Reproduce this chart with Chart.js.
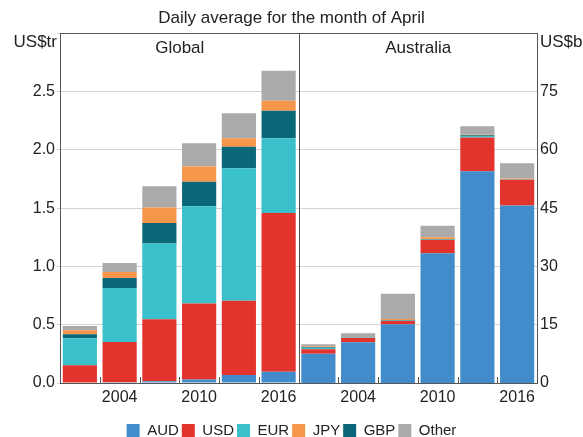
<!DOCTYPE html>
<html>
<head>
    <meta charset="utf-8">
    <title>Turnover by currency</title>
    <script src="https://cdn.jsdelivr.net/npm/chart.js"></script>
    <style>
        html, body { margin: 0; padding: 0; background: #fff; }
    </style>
</head>
<body>
    <canvas id="turnover-chart" width="583" height="437"></canvas>

    <script>
        const years = ['2001', '2004', '2007', '2010', '2013', '2016'];
        const shownYears = ['2004', '2010', '2016'];

        // Global, US$ trillion
        const globalAUD = [0.004, 0.006, 0.015, 0.030, 0.069, 0.097];
        const globalUSD = [0.148, 0.346, 0.531, 0.653, 0.637, 1.362];
        const globalEUR = [0.231, 0.463, 0.652, 0.833, 1.136, 0.641];
        const globalGBP = [0.035, 0.085, 0.175, 0.212, 0.186, 0.237];
        const globalJPY = [0.034, 0.052, 0.134, 0.129, 0.072, 0.086];
        const globalOther = [0.037, 0.077, 0.181, 0.200, 0.214, 0.257];

        // Australia, US$ billion
        const ausAUD = [7.5, 10.5, 15.1, 33.4, 54.5, 45.7];
        const ausUSD = [1.2, 1.1, 0.85, 3.4, 8.7, 6.6];
        const ausEUR = [0.35, 0.05, 0.1, 0.1, 0.4, 0.1];
        const ausGBP = [0.2, 0.05, 0.1, 0.1, 0.2, 0.05];
        const ausJPY = [0.2, 0.1, 0.3, 0.5, 0.1, 0.2];
        const ausOther = [0.5, 1.0, 6.5, 3.0, 2.2, 3.9];

        const currencies = ['AUD', 'USD', 'EUR', 'GBP', 'JPY', 'Other'];
        const colours = ['#438ccb', '#e3332d', '#39c0cb', '#0b6879', '#f6964b', '#a9aaa9'];
        const legendOrder = ['AUD', 'USD', 'EUR', 'JPY', 'GBP', 'Other'];

        const globalSeries = [globalAUD, globalUSD, globalEUR, globalGBP, globalJPY, globalOther];
        const ausSeries = [ausAUD, ausUSD, ausEUR, ausGBP, ausJPY, ausOther];
        const empty = years.map(() => null);

        const FONT = '"Liberation Sans", Arial, sans-serif';
        const TEXT = '#222';
        const FRAME = '#555';

        const datasets = currencies.map((c, i) => ({
            label: c,
            data: globalSeries[i].concat(empty),
            yAxisID: 'y',
            backgroundColor: colours[i],
            borderWidth: 0,
            barPercentage: 0.86,
            categoryPercentage: 1
        })).concat(currencies.map((c, i) => ({
            label: c,
            data: empty.concat(ausSeries[i]),
            yAxisID: 'y2',
            backgroundColor: colours[i],
            borderWidth: 0,
            barPercentage: 0.86,
            categoryPercentage: 1
        })));

        // frame top, divider, small ticks between bars, unit + panel labels
        const panelFrame = {
            id: 'panelFrame',
            afterDatasetsDraw(chart) {
                const { ctx, chartArea: a, scales: { x } } = chart;
                ctx.save();
                ctx.strokeStyle = FRAME;
                ctx.lineWidth = 1;
                ctx.beginPath();
                ctx.moveTo(a.left, Math.round(a.top) + 0.5);
                ctx.lineTo(a.right, Math.round(a.top) + 0.5);
                ctx.stroke();

                let mid = 0;
                for (let i = 1; i < years.length * 2; i++) {
                    const px = Math.round((x.getPixelForValue(i - 1) + x.getPixelForValue(i)) / 2) + 0.5;
                    if (i === years.length) mid = px;
                    ctx.beginPath();
                    ctx.moveTo(px, i === years.length ? a.top : a.bottom - 6);
                    ctx.lineTo(px, a.bottom);
                    ctx.stroke();
                }

                ctx.fillStyle = TEXT;
                ctx.font = '17px ' + FONT;
                ctx.textBaseline = 'middle';
                ctx.textAlign = 'right';
                ctx.fillText('US$tr', a.left - 3, a.top + 9);
                ctx.textAlign = 'left';
                ctx.fillText('US$b', a.right + 3, a.top + 9);
                ctx.textAlign = 'center';
                ctx.fillText('Global', (a.left + mid) / 2, a.top + 15);
                ctx.fillText('Australia', (mid + a.right) / 2, a.top + 15);
                ctx.restore();
            }
        };

        const ctx = document.getElementById('turnover-chart').getContext('2d');
        new Chart(ctx, {
            type: 'bar',
            data: {
                labels: years.concat(years),
                datasets: datasets
            },
            plugins: [panelFrame],
            options: {
                responsive: false,
                animation: false,
                layout: {
                    autoPadding: false,
                    padding: { left: 0, right: 0, top: 0, bottom: -11 }
                },
                plugins: {
                    title: {
                        display: true,
                        text: 'Daily average for the month of April',
                        color: TEXT,
                        font: { family: FONT, size: 17, weight: 'normal' },
                        padding: { top: 8, bottom: 5 }
                    },
                    legend: {
                        display: true,
                        position: 'bottom',
                        labels: {
                            boxWidth: 13,
                            boxHeight: 13,
                            padding: 3,
                            color: TEXT,
                            font: { family: FONT, size: 15 },
                            filter: item => item.datasetIndex < currencies.length,
                            sort: (a, b) => legendOrder.indexOf(a.text) - legendOrder.indexOf(b.text)
                        }
                    },
                    tooltip: { enabled: false }
                },
                scales: {
                    x: {
                        type: 'category',
                        stacked: true,
                        afterFit: scale => { scale.height = 37; },
                        grid: { display: false, drawTicks: false },
                        border: { display: true, color: FRAME },
                        ticks: {
                            autoSkip: false,
                            maxRotation: 0,
                            padding: 5,
                            color: TEXT,
                            font: { family: FONT, size: 16 },
                            callback: function(val) {
                                const l = this.getLabelForValue(val);
                                return shownYears.includes(l) ? l : '';
                            }
                        }
                    },
                    y: {
                        position: 'left',
                        stacked: true,
                        min: 0,
                        max: 3,
                        afterFit: scale => { scale.width = 60; },
                        grid: { color: '#d4d4d4', tickLength: 3 },
                        border: { display: true, color: FRAME },
                        ticks: {
                            stepSize: 0.5,
                            padding: 2,
                            color: TEXT,
                            font: { family: FONT, size: 16 },
                            callback: v => v >= 3 ? '' : v.toFixed(1)
                        }
                    },
                    y2: {
                        position: 'right',
                        stacked: true,
                        min: 0,
                        max: 90,
                        afterFit: scale => { scale.width = 46; },
                        grid: { display: false, drawTicks: false },
                        border: { display: true, color: FRAME },
                        ticks: {
                            stepSize: 15,
                            padding: 3,
                            color: TEXT,
                            font: { family: FONT, size: 16 },
                            callback: v => v >= 90 ? '' : v
                        }
                    }
                }
            }
        });
    </script>
</body>
</html>
